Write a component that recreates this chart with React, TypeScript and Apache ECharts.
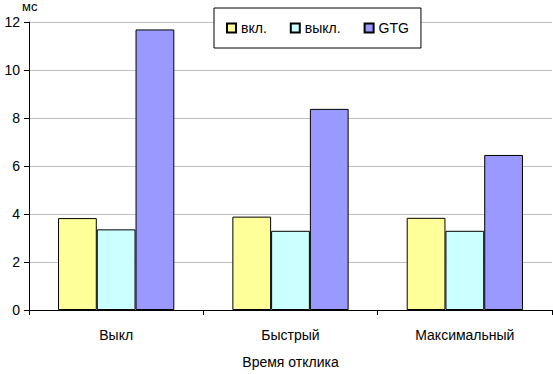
import React, { useEffect, useRef } from "react";
import * as echarts from "echarts";

const categories = ["Выкл", "Быстрый", "Максимальный"];
const seriesNames = ["вкл.", "выкл.", "GTG"];
const vkl = [3.83, 3.89, 3.84];
const vykl = [3.36, 3.3, 3.3];
const gtg = [11.69, 8.38, 6.46];
const colors = ["#FFFF99", "#CCFFFF", "#9999FF"];

export default function App() {
  const ref = useRef<HTMLDivElement>(null);
  useEffect(() => {
    const chart = echarts.init(ref.current!, null, { renderer: "svg" });
    const font = "Liberation Sans, Arial, sans-serif";
    const data = [vkl, vykl, gtg];
    chart.setOption({
      animation: false,
      textStyle: { fontFamily: font },
      grid: { left: 29, right: 1, top: 22, bottom: 59, containLabel: false },
      legend: {
        left: 214,
        top: 8,
        orient: "horizontal",
        icon: "rect",
        itemWidth: 9,
        itemHeight: 9,
        itemGap: 23,
        padding: [13, 12, 13, 12],
        borderColor: "#000",
        borderWidth: 1,
        backgroundColor: "#fff",
        textStyle: { fontSize: 14, color: "#000", fontFamily: font },
        data: seriesNames,
      },
      graphic: [
        {
          type: "text",
          left: 22,
          top: 0,
          style: { text: "мс", fontSize: 13, fill: "#000", fontFamily: font },
        },
      ],
      xAxis: {
        type: "category",
        data: categories,
        name: "Время отклика",
        nameLocation: "middle",
        nameGap: 45,
        nameTextStyle: { fontSize: 14, color: "#000", fontFamily: font },
        axisLine: { lineStyle: { color: "#000", width: 1 } },
        axisTick: { show: true, length: 5, lineStyle: { color: "#000" } },
        axisLabel: { fontSize: 14, color: "#000", margin: 18, fontFamily: font },
      },
      yAxis: {
        type: "value",
        min: 0,
        max: 12,
        interval: 2,
        axisLine: { show: true, lineStyle: { color: "#000", width: 1 } },
        axisTick: { show: true, length: 5, lineStyle: { color: "#000" } },
        axisLabel: { fontSize: 14, color: "#000", margin: 9, fontFamily: font },
        splitLine: { lineStyle: { color: "#C0C0C0", width: 1 } },
      },
      series: seriesNames.map((name, i) => ({
        name,
        type: "bar",
        data: data[i],
        barGap: "0%",
        barCategoryGap: "33.3%",
        itemStyle: { color: colors[i], borderColor: "#000", borderWidth: 1 },
      })),
    });
    return () => chart.dispose();
  }, []);
  return <div ref={ref} style={{ width: 553, height: 374, position: "absolute", left: 0, top: 0 }} />;
}
